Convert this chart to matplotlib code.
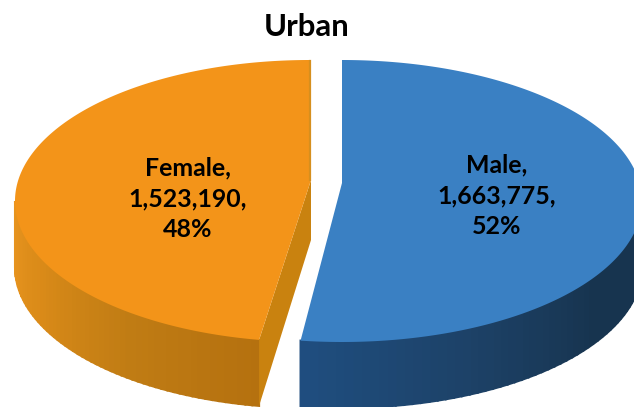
import numpy as np
import matplotlib
matplotlib.use("Agg")
import matplotlib.pyplot as plt
from matplotlib.colors import to_rgb

# --- data ---
title = "Urban"
categories = ["Male", "Female"]
values = [1663775, 1523190]

# --- style ---
plt.rcParams['font.family'] = ['Lato', 'DejaVu Sans']
top_colors = ["#3a80c3", "#f39419"]
wall_stops = [["#17344f", "#17344f", "#1d4268", "#1f4e80"],
              ["#b5710f", "#c07c14", "#d98a18", "#eb9620"]]
cut_color = "#c9820f"
H, W = 407, 634
depth = 66
geom = [dict(cx=342, cy=201, rx=300, ry=141, ax=342, ay=183),
        dict(cx=310, cy=201, rx=295, ry=141, ax=311, ay=180)]
label_xy = [(497, 196), (188, 199)]

fig = plt.figure(figsize=(W / 100, H / 100), dpi=100)
ax = fig.add_axes([0, 0, 1, 1])
ax.set_xlim(0, W)
ax.set_ylim(H, 0)
ax.axis("off")

total = sum(values)
male_end = 360 * values[0] / total
ranges = [(0.0, male_end), (male_end + 2.0, 360.0)]


def ell(g, t):
    t = np.radians(t)
    return g['cx'] + g['rx'] * np.sin(t), g['cy'] - g['ry'] * np.cos(t)


def mix(stops, f):
    c = np.array([to_rgb(s) for s in stops])
    p = f * (len(c) - 1)
    i = min(int(p), len(c) - 2)
    return tuple(c[i] + (c[i + 1] - c[i]) * (p - i))


# outer walls, drawn as coloured strips painted back to front
for k, (g, (a, b)) in enumerate(zip(geom, ranges)):
    lo, hi = (max(a, 90), b) if k == 0 else (a, 270)
    th = np.linspace(lo, hi, 60)
    n = len(th) - 1
    order = range(n) if k == 0 else range(n - 1, -1, -1)
    for i in order:
        x0, y0 = ell(g, th[i])
        x1, y1 = ell(g, th[i + 1])
        f = i / n if k == 0 else i / n
        ax.fill([x0, x1, x1, x0], [y0, y1, y1 + depth, y0 + depth],
                color=mix(wall_stops[k], f if k == 0 else f), lw=1.5, zorder=2)

# female cut face
g = geom[1]
xb, yb = ell(g, ranges[1][0])
ax.fill([g['ax'], xb, xb, g['ax']],
        [g['ay'], yb, yb + depth, g['ay'] + depth - 6],
        color=cut_color, lw=0, zorder=2.5)

# top faces
for g, (a, b), col in zip(geom, ranges, top_colors):
    th = np.linspace(a, b, 300)
    xs, ys = ell(g, th)
    ax.fill(np.r_[g['ax'], xs], np.r_[g['ay'], ys], color=col, lw=0, zorder=3)

# thin darker edge on female's straight back edge
ax.plot([geom[1]['ax'] - 1, geom[1]['ax'] - 1], [61, 180], color="#d68f1e", lw=1.6, zorder=4)

# labels
for cat, v, (x, y) in zip(categories, values, label_xy):
    ax.text(x, y, f"{cat},\n{v:,},\n{round(100 * v / total)}%", ha='center', va='center',
            fontsize=17.9, fontweight='bold', color='black', linespacing=1.42, zorder=5)

ax.text(307, 27, title, ha='center', va='center', fontsize=22.4, fontweight='bold', color='black')

fig.savefig("out.png", dpi=100, facecolor='white')
